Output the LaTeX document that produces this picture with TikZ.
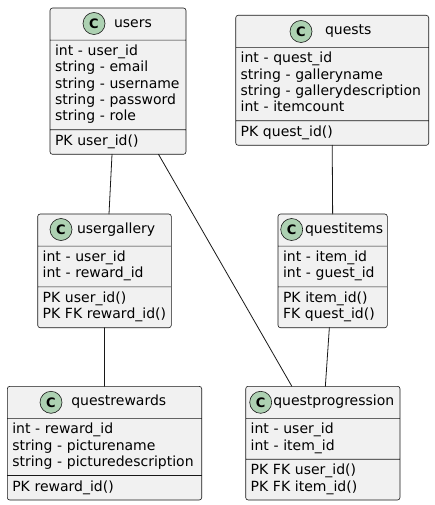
\documentclass[tikz,border=0pt]{standalone}
\usepackage{fontspec}
\setmainfont{DejaVu Sans}
\usetikzlibrary{shapes.multipart,positioning}
\definecolor{umlfill}{HTML}{F1F1F1}
\definecolor{umlline}{HTML}{181818}
\definecolor{badgefill}{HTML}{ADD1B2}
\newcommand{\hdstrut}{\rule[-8.7pt]{0pt}{23.9pt}}
\tikzset{
  base/.style={font=\fontsize{14}{16.3}\selectfont, outer sep=0pt},
  entity/.style={rectangle split, rectangle split parts=3, rectangle split part align={left}, draw=umlline, line width=0.6pt, fill=umlfill, rounded corners=2.5pt, inner xsep=5pt, inner ysep=3.8pt, anchor=north west, base},
  badge/.style={circle, draw=umlline, line width=0.6pt, fill=badgefill, minimum size=22pt, inner sep=0pt, font=\fontsize{13}{13}\selectfont\bfseries},
  link/.style={line width=0.8pt, color=umlline, line cap=round}
}

\begin{document}
\begin{tikzpicture}[x=1pt, y=-1pt]
  \useasboundingbox (0,0) rectangle (434,505);

  \node[entity, text width=126pt] (users) at (50,8) {\hdstrut\hspace*{59pt}\mbox{users}
    \nodepart{two}\strut int - user\_id\\ \strut string - email\\ \strut string - username\\ \strut string - password\\ \strut string - role
    \nodepart{three}\strut PK user\_id()};
  \node[entity, text width=183pt] (quests) at (235.7,15.3) {\hdstrut\hspace*{84.3pt}\mbox{quests}
    \nodepart{two}\strut int - quest\_id\\ \strut string - galleryname\\ \strut string - gallerydescription\\ \strut int - itemcount
    \nodepart{three}\strut PK quest\_id()};
  \node[entity, text width=123.6pt] (usergallery) at (37.7,214) {\hdstrut\hspace*{34.3pt}\mbox{usergallery}
    \nodepart{two}\strut int - user\_id\\ \strut int - reward\_id
    \nodepart{three}\strut PK user\_id()\\ \strut PK FK reward\_id()};
  \node[entity, text width=99.3pt] (questitems) at (278,214) {\hdstrut\hspace*{22pt}\mbox{questitems}
    \nodepart{two}\strut int - item\_id\\ \strut int - guest\_id
    \nodepart{three}\strut PK item\_id()\\ \strut FK quest\_id()};
  \node[entity, text width=184.4pt] (questrewards) at (7.3,386.3) {\hdstrut\hspace*{59pt}\mbox{questrewards}
    \nodepart{two}\strut int - reward\_id\\ \strut string - picturename\\ \strut string - picturedescription
    \nodepart{three}\strut PK reward\_id()};
  \node[entity, text width=144.3pt] (questprogression) at (245.7,386.3) {\hdstrut\hspace*{22.6pt}\mbox{questprogression}
    \nodepart{two}\strut int - user\_id\\ \strut int - item\_id
    \nodepart{three}\strut PK FK user\_id()\\ \strut PK FK item\_id()};

  % class badges
  \node[badge] (users-c) at (94,23.5) {C};
  \node[badge] (quests-c) at (301,31.5) {C};
  \node[badge] (usergallery-c) at (61,229.5) {C};
  \node[badge] (questitems-c) at (291.7,229.5) {C};
  \node[badge] (questrewards-c) at (51,402.3) {C};
  \node[badge] (questprogression-c) at (260.7,402.3) {C};

  \draw[link] ([xshift=-6pt]users.south) -- ([xshift=4.5pt]usergallery.north);
  \draw[link] ([xshift=40.5pt]users.south) -- ([xshift=-31pt]questprogression.north);
  \draw[link] (quests.south) -- (questitems.north);
  \draw[link] ([xshift=-3.3pt]questitems.south) -- ([xshift=2.5pt]questprogression.north);
  \draw[link] (usergallery.south) -- (questrewards.north);
\end{tikzpicture}
\end{document}
